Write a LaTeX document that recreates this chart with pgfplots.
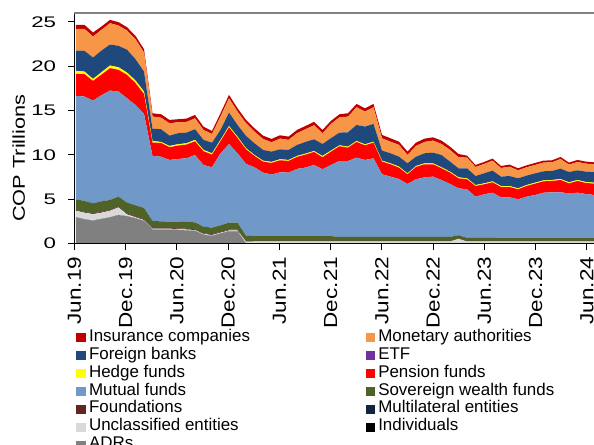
\documentclass[border=0pt]{standalone}
\usepackage{fontspec}
\setmainfont{Liberation Sans}
\usepackage{graphicx}
\usepackage{pgfplots}
\usepackage{pgfplotstable}
\pgfplotsset{compat=1.18}
\definecolor{cIns}{HTML}{C00000}
\definecolor{cMon}{HTML}{F79646}
\definecolor{cFB}{HTML}{1F497D}
\definecolor{cETF}{HTML}{7030A0}
\definecolor{cHed}{HTML}{FFFF00}
\definecolor{cPen}{HTML}{FF0000}
\definecolor{cMut}{HTML}{7099CA}
\definecolor{cSWF}{HTML}{4F6228}
\definecolor{cFou}{HTML}{632523}
\definecolor{cMul}{HTML}{10253F}
\definecolor{cUnc}{HTML}{D9D9D9}
\definecolor{cInd}{HTML}{000000}
\definecolor{cADR}{HTML}{808080}
\pgfplotstableread{
i ADR Ind Unc Mul Fou SWF Mut Pen Hed ETF FB Mon Ins
0 2.97 0 0.75 0 0.08 1.20 11.66 2.48 0.34 0 2.29 2.44 0.45
1 2.75 0 0.75 0 0.08 1.24 11.76 2.52 0.30 0 2.33 2.48 0.45
2 2.60 0 0.74 0 0.08 1.13 11.58 2.22 0.22 0 2.41 2.37 0.45
3 2.79 0 0.71 0 0.08 1.20 11.95 2.33 0.27 0 2.44 2.33 0.38
4 2.97 0 0.75 0 0.08 1.13 12.33 2.52 0.30 0 2.37 2.40 0.38
5 3.23 0 0.87 0 0.08 1.12 11.85 2.44 0.30 0 2.41 2.29 0.38
6 3.09 0 0.22 0 0.08 1.24 11.76 2.64 0.26 0 2.58 2.16 0.37
7 2.86 0 0.12 0 0.08 1.27 11.31 2.45 0.30 0 2.40 2.26 0.37
8 2.57 0 0.10 0 0.08 1.28 10.60 2.25 0.27 0 2.25 2.14 0.38
9 1.60 0 0.10 0 0.08 0.78 7.33 1.50 0.19 0 1.39 1.36 0.37
10 1.60 0 0.10 0 0.08 0.74 7.29 1.55 0.11 0 1.43 1.31 0.38
11 1.60 0 0.10 0 0.08 0.70 6.96 1.43 0.15 0 1.16 1.39 0.38
12 1.55 0 0.10 0 0.08 0.75 7.07 1.51 0.15 0 1.24 1.24 0.34
13 1.50 0 0.10 0 0.08 0.77 7.18 1.54 0.15 0 1.20 1.20 0.38
14 1.45 0 0.10 0 0.08 0.78 7.59 1.54 0.16 0 1.20 1.24 0.37
15 1.00 0 0.10 0 0.08 0.74 6.95 1.55 0.15 0 1.13 1.12 0.37
16 0.88 0 0.10 0 0.08 0.75 6.80 1.43 0.15 0 1.20 0.98 0.34
17 1.15 0 0.10 0 0.08 0.74 8.12 1.36 0.15 0 1.12 1.51 0.37
18 1.40 0 0.10 0 0.08 0.79 8.87 1.88 0.15 0 1.51 1.61 0.38
19 1.40 0 0.10 0 0.08 0.79 7.82 1.73 0.15 0 1.32 1.50 0.38
20 0 0 0.24 0.02 0.04 0.60 8.09 1.65 0.12 0 1.39 1.43 0.37
21 0 0 0.25 0.02 0.04 0.55 7.75 1.28 0.11 0 1.32 1.31 0.38
22 0 0 0.25 0.02 0.04 0.55 7.15 1.24 0.11 0 1.21 1.24 0.37
23 0 0 0.25 0.02 0.04 0.55 6.93 1.31 0.12 0 1.16 1.05 0.38
24 0 0 0.25 0.02 0.04 0.55 7.19 1.35 0.12 0 1.12 1.21 0.37
25 0 0 0.25 0.02 0.04 0.55 7.15 1.32 0.11 0 1.13 1.13 0.37
26 0 0 0.25 0.02 0.04 0.55 7.57 1.35 0.11 0 1.24 1.32 0.37
27 0 0 0.25 0.02 0.04 0.55 7.72 1.46 0.11 0 1.32 1.43 0.37
28 0 0 0.25 0.02 0.04 0.55 8.02 1.46 0.11 0 1.32 1.58 0.38
29 0 0 0.25 0.02 0.04 0.55 7.53 1.35 0.15 0 1.35 1.21 0.37
30 0 0 0.25 0.02 0.04 0.55 8.02 1.50 0.12 0 1.40 1.60 0.35
31 0 0 0.25 0.02 0.04 0.45 8.56 1.66 0.11 0 1.43 1.73 0.34
32 0 0 0.25 0.02 0.04 0.45 8.56 1.51 0.11 0 1.62 1.76 0.38
33 0 0 0.25 0.02 0.04 0.45 8.94 1.77 0.11 0 1.80 2.00 0.37
34 0 0 0.25 0.02 0.04 0.45 8.68 1.65 0.11 0 2.00 1.69 0.37
35 0 0 0.25 0.02 0.04 0.45 8.86 1.77 0.11 0 2.00 1.88 0.37
36 0 0 0.25 0.02 0.04 0.45 7.06 1.43 0.11 0 1.13 1.39 0.38
37 0 0 0.25 0.02 0.04 0.45 6.80 1.39 0.11 0 1.13 1.31 0.38
38 0 0 0.25 0.02 0.04 0.45 6.53 1.28 0.12 0 1.12 1.32 0.37
39 0 0 0.25 0.02 0.04 0.45 5.97 1.09 0.11 0 1.13 0.94 0.38
40 0 0 0.25 0.02 0.04 0.45 6.50 1.39 0.11 0 1.05 1.21 0.37
41 0 0 0.25 0.02 0.04 0.45 6.72 1.47 0.11 0 1.13 1.28 0.37
42 0 0 0.25 0.02 0.04 0.45 6.80 1.39 0.11 0 1.20 1.36 0.37
43 0 0 0.25 0.02 0.04 0.45 6.42 1.32 0.11 0 1.39 1.24 0.38
44 0 0 0.25 0.02 0.04 0.45 5.97 1.28 0.11 0 1.13 1.32 0.37
45 0 0 0.55 0.02 0.04 0.35 5.28 1.13 0.11 0 1.02 1.24 0.37
46 0 0 0.25 0.02 0.04 0.35 5.47 1.13 0.11 0 1.13 1.20 0.22
47 0 0 0.25 0.02 0.04 0.35 4.64 1.20 0.11 0 1.02 1.02 0.22
48 0 0 0.25 0.02 0.04 0.35 4.90 1.13 0.11 0 1.13 1.05 0.23
49 0 0 0.25 0.02 0.04 0.35 5.09 1.17 0.11 0 1.20 1.13 0.23
50 0 0 0.25 0.02 0.04 0.32 4.60 1.16 0.11 0 1.06 0.97 0.23
51 0 0 0.25 0.02 0.04 0.32 4.60 1.16 0.11 0 1.13 1.05 0.23
52 0 0 0.25 0.02 0.04 0.32 4.37 1.13 0.11 0 1.13 0.90 0.23
53 0 0 0.25 0.02 0.04 0.32 4.67 1.20 0.11 0 1.06 0.94 0.22
54 0 0 0.25 0.02 0.04 0.32 4.86 1.28 0.11 0 1.05 0.94 0.23
55 0 0 0.25 0.02 0.04 0.32 5.12 1.28 0.11 0 1.02 0.98 0.22
56 0 0 0.25 0.02 0.04 0.32 5.16 1.28 0.11 0 1.02 0.97 0.23
57 0 0 0.25 0.02 0.04 0.32 5.16 1.39 0.11 0 1.17 1.09 0.22
58 0 0 0.25 0.02 0.04 0.32 5.05 1.12 0.12 0 1.16 0.83 0.23
59 0 0 0.25 0.02 0.04 0.32 5.12 1.32 0.11 0 1.09 0.94 0.23
60 0 0 0.25 0.02 0.04 0.32 4.97 1.24 0.11 0 1.17 0.90 0.23
61 0 0 0.25 0.02 0.04 0.32 4.86 1.28 0.11 0 1.17 0.90 0.22
}\data
\newcommand{\sy}[1]{\scalebox{1.45}[1]{#1}}
\newcommand{\sx}[1]{\scalebox{1.19}[1]{#1}}
\begin{document}
\begin{tikzpicture}
\begin{axis}[
  at={(0,0)}, anchor=south west,
  scale only axis, width=519.7bp, height=230.7bp,
  xmin=-0.2, xmax=60.94, ymin=0, ymax=26,
  stack plots=y, area style,
  axis x line*=bottom, axis y line*=left,
  axis line style={black, line width=1.2bp, -},
  tick align=outside, major tick length=6bp,
  tick style={black, line width=1bp},
  xtick={-0.2,5.83,11.86,17.89,23.92,29.95,35.98,42.01,48.04,54.07,60.1},
  xticklabels={\sx{Jun.19},\sx{Dec.19},\sx{Jun.20},\sx{Dec.20},\sx{Jun.21},\sx{Dec.21},\sx{Jun.22},\sx{Dec.22},\sx{Jun.23},\sx{Dec.23},\sx{Jun.24}},
  xticklabel style={rotate=90, anchor=east, inner sep=0pt, font=\fontsize{19}{19}\selectfont},
  xticklabel shift=7bp,
  ytick={0,5,10,15,20,25},
  yticklabels={\sy{0},\sy{5},\sy{10},\sy{15},\sy{20},\sy{25}},
  yticklabel style={anchor=east, inner sep=0pt, font=\fontsize{15.4}{16}\selectfont},
  yticklabel shift=12bp,
  ylabel={\scalebox{1.27}[1]{COP Trillions}},
  ylabel style={at={(axis description cs:-0.1068,0.371)}, anchor=center, rotate=0, font=\fontsize{17.2}{18}\selectfont},
  legend columns=2, legend cell align=left,
  legend image code/.code={\fill[#1, draw=none] (0bp,-4.3bp) rectangle (9.2bp,4.3bp);},
  legend style={at={(axis description cs:0.004,-0.369)}, anchor=north west, draw=none, fill=none,
    inner sep=0pt, outer sep=0pt, row sep=0pt, font=\fontsize{17}{17.9}\selectfont,
    nodes={inner sep=0pt, text height=12.5bp, text depth=5.4bp},
    /tikz/column 1/.style={column sep=3.5bp},
    /tikz/column 2/.style={column sep=115.5bp},
    /tikz/column 3/.style={column sep=3.5bp}},
]
\addplot[fill=cADR, draw=none, forget plot] table[x=i, y=ADR]{\data} \closedcycle;
\addplot[fill=cInd, draw=none, forget plot] table[x=i, y=Ind]{\data} \closedcycle;
\addplot[fill=cUnc, draw=none, forget plot] table[x=i, y=Unc]{\data} \closedcycle;
\addplot[fill=cMul, draw=none, forget plot] table[x=i, y=Mul]{\data} \closedcycle;
\addplot[fill=cFou, draw=none, forget plot] table[x=i, y=Fou]{\data} \closedcycle;
\addplot[fill=cSWF, draw=none, forget plot] table[x=i, y=SWF]{\data} \closedcycle;
\addplot[fill=cMut, draw=none, forget plot] table[x=i, y=Mut]{\data} \closedcycle;
\addplot[fill=cPen, draw=none, forget plot] table[x=i, y=Pen]{\data} \closedcycle;
\addplot[fill=cHed, draw=none, forget plot] table[x=i, y=Hed]{\data} \closedcycle;
\addplot[fill=cETF, draw=none, forget plot] table[x=i, y=ETF]{\data} \closedcycle;
\addplot[fill=cFB, draw=none, forget plot] table[x=i, y=FB]{\data} \closedcycle;
\addplot[fill=cMon, draw=none, forget plot] table[x=i, y=Mon]{\data} \closedcycle;
\addplot[fill=cIns, draw=none, forget plot] table[x=i, y=Ins]{\data} \closedcycle;
\addlegendimage{fill=cIns}\addlegendentry{Insurance companies}
\addlegendimage{fill=cMon}\addlegendentry{Monetary authorities}
\addlegendimage{fill=cFB}\addlegendentry{Foreign banks}
\addlegendimage{fill=cETF}\addlegendentry{ETF}
\addlegendimage{fill=cHed}\addlegendentry{Hedge funds}
\addlegendimage{fill=cPen}\addlegendentry{Pension funds}
\addlegendimage{fill=cMut}\addlegendentry{Mutual funds}
\addlegendimage{fill=cSWF}\addlegendentry{Sovereign wealth funds}
\addlegendimage{fill=cFou}\addlegendentry{Foundations}
\addlegendimage{fill=cMul}\addlegendentry{Multilateral entities}
\addlegendimage{fill=cUnc}\addlegendentry{Unclassified entities}
\addlegendimage{fill=cInd}\addlegendentry{Individuals}
\addlegendimage{fill=cADR}\addlegendentry{ADRs}
\end{axis}
\draw[color=cADR, line width=1.3bp] (0,230.7bp) -- (519.7bp,230.7bp);
\pgfresetboundingbox
\useasboundingbox (-74.3bp,-201.3bp) rectangle (519.7bp,243.7bp);
\end{tikzpicture}
\end{document}
